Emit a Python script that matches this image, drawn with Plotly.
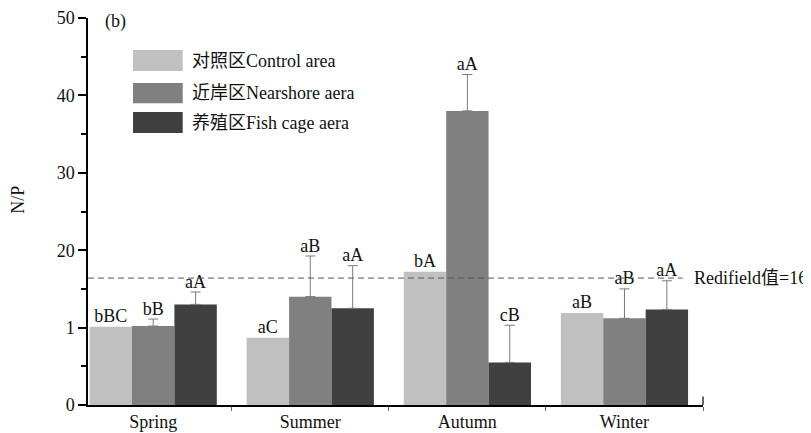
import plotly.graph_objects as go

seasons = ["Spring", "Summer", "Autumn", "Winter"]
series_names = ["对照区Control area", "近岸区Nearshore aera", "养殖区Fish cage aera"]
control = [10.1, 8.7, 17.2, 11.9]
nearshore = [10.2, 14.0, 38.0, 11.2]
fishcage = [13.0, 12.5, 5.5, 12.35]
control_err = [None, None, None, None]
nearshore_err = [0.9, 5.25, 4.7, 3.8]
fishcage_err = [1.6, 5.5, 4.8, 3.7]
control_lbl = ["bBC", "aC", "bA", "aB"]
nearshore_lbl = ["bB", "aB", "aA", "aB"]
fishcage_lbl = ["aA", "aA", "cB", "aA"]
redfield = 16.4
ytick_vals = [0, 10, 20, 30, 40, 50]
ytick_text = ["0", "1", "20", "30", "40", "50"]

colors = ["#c0c0c0", "#808080", "#404040"]
FONT = "Liberation Serif, Noto Sans CJK SC"

vals = [control, nearshore, fishcage]
errs = [control_err, nearshore_err, fishcage_err]
lbls = [control_lbl, nearshore_lbl, fishcage_lbl]

fig = go.Figure()
for i in range(3):
    e = errs[i]
    has_err = any(v is not None for v in e)
    bar_kw = dict(
        x=seasons, y=vals[i], name=series_names[i],
        marker=dict(color=colors[i], line=dict(width=0)),
        offsetgroup=str(i), showlegend=False,
    )
    if has_err:
        bar_kw["error_y"] = dict(type="data", symmetric=False,
                                 array=[v if v is not None else float("nan") for v in e],
                                 arrayminus=[0 if v is not None else float("nan") for v in e],
                                 color="#7a7a7a", thickness=1, width=5)
    fig.add_trace(go.Bar(**bar_kw))

for i in range(3):
    tops = [v + (er if er is not None else 0) for v, er in zip(vals[i], errs[i])]
    fig.add_trace(go.Scatter(
        x=seasons, y=tops, mode="text", text=lbls[i],
        textposition="top center", offsetgroup=str(i),
        textfont=dict(family=FONT, size=18, color="#111"),
        showlegend=False, cliponaxis=False, hoverinfo="skip",
    ))

# dashed Redfield line
fig.add_shape(type="line", xref="paper", yref="y", x0=0, x1=0.967,
              y0=redfield, y1=redfield,
              line=dict(color="#555", width=1, dash="6px,4px"), layer="above")
fig.add_annotation(xref="paper", yref="y", x=0.982, y=redfield,
                   text="Redifield值=16", showarrow=False,
                   xanchor="left", yanchor="middle",
                   font=dict(family=FONT, size=18, color="#111"))
# right end tick on x axis
fig.add_shape(type="line", xref="paper", yref="paper", x0=1, x1=1, y0=0, y1=0.022,
              line=dict(color="black", width=1.2))

# manual legend
leg_y = [(0.917, 0.863), (0.832, 0.780), (0.757, 0.703)]
for i in range(3):
    y0, y1 = leg_y[i]
    fig.add_shape(type="rect", xref="paper", yref="paper",
                  x0=0.0732, x1=0.154, y0=y1, y1=y0,
                  fillcolor=colors[i], line=dict(width=0))
    fig.add_annotation(xref="paper", yref="paper", x=0.166, y=(y0 + y1) / 2,
                       text=series_names[i], showarrow=False,
                       xanchor="left", yanchor="middle",
                       font=dict(family=FONT, size=18, color="#111"))

fig.add_annotation(xref="paper", yref="paper", x=0.024, y=0.992, text="(b)",
                   showarrow=False, xanchor="left", yanchor="middle",
                   font=dict(family=FONT, size=18, color="#111"))
fig.add_annotation(xref="paper", yref="paper", x=-0.114, y=0.53, text="N/P",
                   showarrow=False, textangle=-90, xanchor="center", yanchor="middle",
                   font=dict(family=FONT, size=18, color="#111"))

# page body has an 8px margin: shrink figure so the plot area lands where the reference has it
fig.update_layout(
    width=803, height=425,
    margin=dict(l=80, r=108, t=10, b=28, autoexpand=False),
    plot_bgcolor="white", paper_bgcolor="white",
    barmode="group", bargap=0.19, bargroupgap=0,
    scattermode="group", scattergap=0.19,
    font=dict(family=FONT, size=18, color="#111"),
    xaxis=dict(type="category", range=[-0.415, 3.5], showline=True,
               linecolor="black", linewidth=1.5, ticks="outside",
               tickson="boundaries", ticklen=4, tickcolor="#666",
               showgrid=False, zeroline=False,
               tickfont=dict(family=FONT, size=18, color="#111")),
    yaxis=dict(range=[0, 50], showline=True, linecolor="black", linewidth=1.5,
               tickvals=ytick_vals, ticktext=ytick_text, ticks="outside",
               ticklen=8, tickwidth=1.5, tickcolor="black",
               minor=dict(dtick=5, ticks="outside", ticklen=5, tickwidth=1.5,
                          tickcolor="black", showgrid=False),
               showgrid=False, zeroline=False,
               tickfont=dict(family=FONT, size=18, color="#111")),
)

fig.write_html("out.html")
